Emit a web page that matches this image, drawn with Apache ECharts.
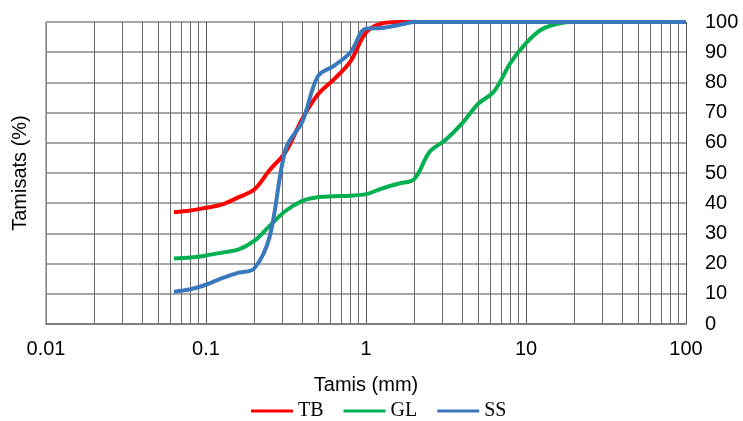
<!DOCTYPE html>
<html>
<head>
<meta charset="utf-8">
<script src="https://cdn.jsdelivr.net/npm/echarts@6/dist/echarts.min.js"></script>
<style>
  html, body { margin: 0; padding: 0; background: #fff; }
  #chart { width: 743px; height: 421px; }
</style>
</head>
<body>
<div id="chart"></div>
<script>
  // sieve openings (mm)
  const sieves = [0.063, 0.08, 0.1, 0.125, 0.16, 0.2, 0.25, 0.315, 0.4, 0.5, 0.63, 0.8, 1, 1.25, 1.6, 2, 2.5, 3.15, 4, 5, 6.3, 8, 10, 12.5, 16, 20, 31.5, 50, 100]
  // passing percentages (%)
  const tb = [37, 37.6, 38.5, 39.5, 42, 44.5, 51, 57, 68, 76, 81, 87, 96.5, 99.5, 100, 100, 100, 100, 100, 100, 100, 100, 100, 100, 100, 100, 100, 100, 100]
  const gl = [21.7, 22, 22.7, 23.6, 24.7, 27.5, 32.5, 37.5, 40.8, 42, 42.3, 42.5, 43, 44.8, 46.5, 48, 57, 61, 66.5, 72.8, 77, 86.5, 93, 97.5, 99.5, 100, 100, 100, 100]
  const ss = [10.7, 11.5, 13, 15.1, 17, 18.4, 29, 58, 67, 82, 85.5, 90, 97.8, 98, 99, 100, 100, 100, 100, 100, 100, 100, 100, 100, 100, 100, 100, 100, 100]
  const names = ['TB', 'GL', 'SS']
  const colors = ['#FF0000', '#00B050', '#3A78BE']

  const pair = arr => sieves.map((s, i) => [s, arr[i]])

  let chart = echarts.init(document.getElementById('chart'))
  let options = {
    animation: false,
    grid: { left: 46, right: 57, top: 22, bottom: 97 },
    legend: {
      data: names,
      top: 401,
      left: 251,
      padding: 0,
      icon: 'rect',
      itemWidth: 42,
      itemHeight: 3,
      itemGap: 20,
      textStyle: { fontFamily: 'Liberation Serif', fontSize: 20, color: '#000' }
    },
    xAxis: {
      type: 'log',
      logBase: 10,
      min: 0.01,
      max: 100,
      name: 'Tamis (mm)',
      nameLocation: 'middle',
      nameGap: 51,
      nameTextStyle: { fontFamily: 'Liberation Sans', fontSize: 20, color: '#000' },
      axisLine: { lineStyle: { color: '#707070', width: 1.5 } },
      axisTick: { show: false },
      axisLabel: {
        margin: 15,
        fontFamily: 'Liberation Sans',
        fontSize: 20,
        color: '#000',
        formatter: v => String(v)
      },
      splitLine: { show: true, lineStyle: { color: '#555', width: 1 } },
      minorTick: { show: false, splitNumber: 9 },
      minorSplitLine: { show: true, lineStyle: { color: '#6a6a6a', width: 1 } }
    },
    yAxis: [
      {
        type: 'value',
        position: 'right',
        min: 0,
        max: 100,
        interval: 10,
        axisLine: { show: false },
        axisTick: { show: false },
        axisLabel: { margin: 19, fontFamily: 'Liberation Sans', fontSize: 20, color: '#000' },
        splitLine: { show: true, lineStyle: { color: '#8a8a8a', width: 1.5 } }
      },
      {
        type: 'value',
        position: 'left',
        min: 0,
        max: 100,
        interval: 10,
        name: 'Tamisats (%)',
        nameLocation: 'middle',
        nameRotate: 90,
        nameGap: 16,
        nameTextStyle: { fontFamily: 'Liberation Sans', fontSize: 20, color: '#000' },
        axisLine: { show: true, lineStyle: { color: '#999', width: 1.5 } },
        axisTick: { show: false },
        axisLabel: { show: false },
        splitLine: { show: false }
      }
    ],
    series: [tb, gl, ss].map((arr, i) => ({
      name: names[i],
      type: 'line',
      data: pair(arr),
      smooth: 0.35,
      showSymbol: false,
      color: colors[i],
      lineStyle: { width: 4, color: colors[i] }
    }))
  }
  chart.setOption(options)
</script>
</body>
</html>
